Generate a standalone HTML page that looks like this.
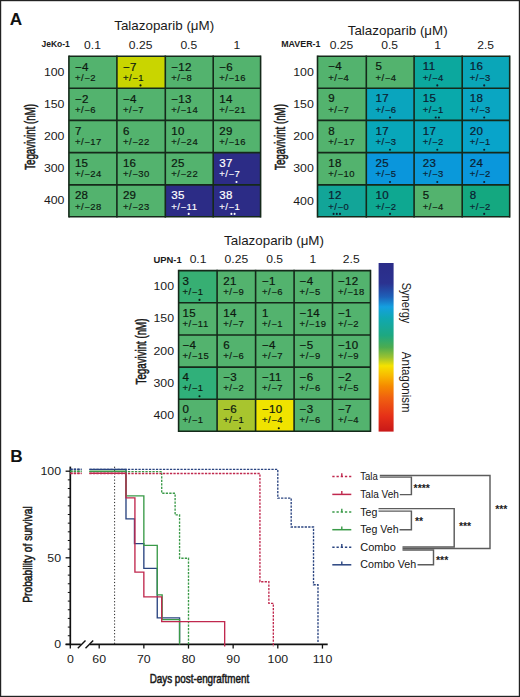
<!DOCTYPE html>
<html><head><meta charset="utf-8"><style>
html,body{margin:0;padding:0;background:#fff;}
body{width:520px;height:697px;overflow:hidden;font-family:"Liberation Sans", sans-serif;}
svg{display:block;}
</style></head><body>
<svg width="520" height="697" viewBox="0 0 520 697" font-family='"Liberation Sans", sans-serif'>
<rect x="0" y="0" width="520" height="697" fill="#fff"/>
<rect x="0.6" y="0.6" width="518.8" height="695.8" fill="none" stroke="#222" stroke-width="1.2"/>
<text transform="translate(9.80,25.00)" font-size="17.2" font-weight="700" fill="#111" text-anchor="start" >A</text>
<text transform="translate(10.30,461.90)" font-size="17.2" font-weight="700" fill="#111" text-anchor="start" >B</text>
<rect x="68.90" y="56.30" width="48.00" height="32.00" fill="#53b36e"/>
<rect x="116.90" y="56.30" width="48.40" height="32.00" fill="#c9d500"/>
<rect x="165.30" y="56.30" width="47.90" height="32.00" fill="#53b36e"/>
<rect x="213.20" y="56.30" width="47.40" height="32.00" fill="#53b36e"/>
<rect x="68.90" y="88.30" width="48.00" height="32.10" fill="#53b36e"/>
<rect x="116.90" y="88.30" width="48.40" height="32.10" fill="#53b36e"/>
<rect x="165.30" y="88.30" width="47.90" height="32.10" fill="#53b36e"/>
<rect x="213.20" y="88.30" width="47.40" height="32.10" fill="#53b36e"/>
<rect x="68.90" y="120.40" width="48.00" height="32.20" fill="#53b36e"/>
<rect x="116.90" y="120.40" width="48.40" height="32.20" fill="#53b36e"/>
<rect x="165.30" y="120.40" width="47.90" height="32.20" fill="#53b36e"/>
<rect x="213.20" y="120.40" width="47.40" height="32.20" fill="#53b36e"/>
<rect x="68.90" y="152.60" width="48.00" height="32.30" fill="#53b36e"/>
<rect x="116.90" y="152.60" width="48.40" height="32.30" fill="#53b36e"/>
<rect x="165.30" y="152.60" width="47.90" height="32.30" fill="#53b36e"/>
<rect x="213.20" y="152.60" width="47.40" height="32.30" fill="#2c2c86"/>
<rect x="68.90" y="184.90" width="48.00" height="31.90" fill="#53b36e"/>
<rect x="116.90" y="184.90" width="48.40" height="31.90" fill="#53b36e"/>
<rect x="165.30" y="184.90" width="47.90" height="31.90" fill="#2c2c86"/>
<rect x="213.20" y="184.90" width="47.40" height="31.90" fill="#2c2c86"/>
<line x1="68.90" y1="55.50" x2="68.90" y2="217.60" stroke="#15291a" stroke-width="1.6"/>
<line x1="116.90" y1="55.50" x2="116.90" y2="217.60" stroke="#15291a" stroke-width="1.6"/>
<line x1="165.30" y1="55.50" x2="165.30" y2="217.60" stroke="#15291a" stroke-width="1.6"/>
<line x1="213.20" y1="55.50" x2="213.20" y2="217.60" stroke="#15291a" stroke-width="1.6"/>
<line x1="260.60" y1="55.50" x2="260.60" y2="217.60" stroke="#15291a" stroke-width="1.6"/>
<line x1="68.90" y1="56.30" x2="260.60" y2="56.30" stroke="#15291a" stroke-width="1.6"/>
<line x1="68.90" y1="88.30" x2="260.60" y2="88.30" stroke="#15291a" stroke-width="1.6"/>
<line x1="68.90" y1="120.40" x2="260.60" y2="120.40" stroke="#15291a" stroke-width="1.6"/>
<line x1="68.90" y1="152.60" x2="260.60" y2="152.60" stroke="#15291a" stroke-width="1.6"/>
<line x1="68.90" y1="184.90" x2="260.60" y2="184.90" stroke="#15291a" stroke-width="1.6"/>
<line x1="68.90" y1="216.80" x2="260.60" y2="216.80" stroke="#15291a" stroke-width="1.6"/>
<text transform="translate(74.90,70.50) scale(1.03,1)" font-size="11.2" font-weight="400" fill="#0d1a10" text-anchor="start" letter-spacing="0.3" stroke="#0d1a10" stroke-width="0.22">−4</text>
<text transform="translate(74.90,81.10) scale(1.1,1)" font-size="8.6" font-weight="400" fill="#0d1a10" text-anchor="start" letter-spacing="0.5" stroke="#0d1a10" stroke-width="0.15">+/−2</text>
<text transform="translate(122.90,70.50) scale(1.03,1)" font-size="11.2" font-weight="400" fill="#0d1a10" text-anchor="start" letter-spacing="0.3" stroke="#0d1a10" stroke-width="0.22">−7</text>
<text transform="translate(122.90,81.10) scale(1.1,1)" font-size="8.6" font-weight="400" fill="#0d1a10" text-anchor="start" letter-spacing="0.5" stroke="#0d1a10" stroke-width="0.15">+/−1</text>
<circle cx="140.50" cy="85.40" r="1.05" fill="#0d1a10"/>
<text transform="translate(171.30,70.50) scale(1.03,1)" font-size="11.2" font-weight="400" fill="#0d1a10" text-anchor="start" letter-spacing="0.3" stroke="#0d1a10" stroke-width="0.22">−12</text>
<text transform="translate(171.30,81.10) scale(1.1,1)" font-size="8.6" font-weight="400" fill="#0d1a10" text-anchor="start" letter-spacing="0.5" stroke="#0d1a10" stroke-width="0.15">+/−8</text>
<text transform="translate(219.20,70.50) scale(1.03,1)" font-size="11.2" font-weight="400" fill="#0d1a10" text-anchor="start" letter-spacing="0.3" stroke="#0d1a10" stroke-width="0.22">−6</text>
<text transform="translate(219.20,81.10) scale(1.1,1)" font-size="8.6" font-weight="400" fill="#0d1a10" text-anchor="start" letter-spacing="0.5" stroke="#0d1a10" stroke-width="0.15">+/−16</text>
<text transform="translate(74.90,102.50) scale(1.03,1)" font-size="11.2" font-weight="400" fill="#0d1a10" text-anchor="start" letter-spacing="0.3" stroke="#0d1a10" stroke-width="0.22">−2</text>
<text transform="translate(74.90,113.10) scale(1.1,1)" font-size="8.6" font-weight="400" fill="#0d1a10" text-anchor="start" letter-spacing="0.5" stroke="#0d1a10" stroke-width="0.15">+/−6</text>
<text transform="translate(122.90,102.50) scale(1.03,1)" font-size="11.2" font-weight="400" fill="#0d1a10" text-anchor="start" letter-spacing="0.3" stroke="#0d1a10" stroke-width="0.22">−4</text>
<text transform="translate(122.90,113.10) scale(1.1,1)" font-size="8.6" font-weight="400" fill="#0d1a10" text-anchor="start" letter-spacing="0.5" stroke="#0d1a10" stroke-width="0.15">+/−7</text>
<text transform="translate(171.30,102.50) scale(1.03,1)" font-size="11.2" font-weight="400" fill="#0d1a10" text-anchor="start" letter-spacing="0.3" stroke="#0d1a10" stroke-width="0.22">−13</text>
<text transform="translate(171.30,113.10) scale(1.1,1)" font-size="8.6" font-weight="400" fill="#0d1a10" text-anchor="start" letter-spacing="0.5" stroke="#0d1a10" stroke-width="0.15">+/−14</text>
<text transform="translate(219.20,102.50) scale(1.03,1)" font-size="11.2" font-weight="400" fill="#0d1a10" text-anchor="start" letter-spacing="0.3" stroke="#0d1a10" stroke-width="0.22">14</text>
<text transform="translate(219.20,113.10) scale(1.1,1)" font-size="8.6" font-weight="400" fill="#0d1a10" text-anchor="start" letter-spacing="0.5" stroke="#0d1a10" stroke-width="0.15">+/−21</text>
<text transform="translate(74.90,134.60) scale(1.03,1)" font-size="11.2" font-weight="400" fill="#0d1a10" text-anchor="start" letter-spacing="0.3" stroke="#0d1a10" stroke-width="0.22">7</text>
<text transform="translate(74.90,145.20) scale(1.1,1)" font-size="8.6" font-weight="400" fill="#0d1a10" text-anchor="start" letter-spacing="0.5" stroke="#0d1a10" stroke-width="0.15">+/−17</text>
<text transform="translate(122.90,134.60) scale(1.03,1)" font-size="11.2" font-weight="400" fill="#0d1a10" text-anchor="start" letter-spacing="0.3" stroke="#0d1a10" stroke-width="0.22">6</text>
<text transform="translate(122.90,145.20) scale(1.1,1)" font-size="8.6" font-weight="400" fill="#0d1a10" text-anchor="start" letter-spacing="0.5" stroke="#0d1a10" stroke-width="0.15">+/−22</text>
<text transform="translate(171.30,134.60) scale(1.03,1)" font-size="11.2" font-weight="400" fill="#0d1a10" text-anchor="start" letter-spacing="0.3" stroke="#0d1a10" stroke-width="0.22">10</text>
<text transform="translate(171.30,145.20) scale(1.1,1)" font-size="8.6" font-weight="400" fill="#0d1a10" text-anchor="start" letter-spacing="0.5" stroke="#0d1a10" stroke-width="0.15">+/−24</text>
<text transform="translate(219.20,134.60) scale(1.03,1)" font-size="11.2" font-weight="400" fill="#0d1a10" text-anchor="start" letter-spacing="0.3" stroke="#0d1a10" stroke-width="0.22">29</text>
<text transform="translate(219.20,145.20) scale(1.1,1)" font-size="8.6" font-weight="400" fill="#0d1a10" text-anchor="start" letter-spacing="0.5" stroke="#0d1a10" stroke-width="0.15">+/−16</text>
<text transform="translate(74.90,166.80) scale(1.03,1)" font-size="11.2" font-weight="400" fill="#0d1a10" text-anchor="start" letter-spacing="0.3" stroke="#0d1a10" stroke-width="0.22">15</text>
<text transform="translate(74.90,177.40) scale(1.1,1)" font-size="8.6" font-weight="400" fill="#0d1a10" text-anchor="start" letter-spacing="0.5" stroke="#0d1a10" stroke-width="0.15">+/−24</text>
<text transform="translate(122.90,166.80) scale(1.03,1)" font-size="11.2" font-weight="400" fill="#0d1a10" text-anchor="start" letter-spacing="0.3" stroke="#0d1a10" stroke-width="0.22">16</text>
<text transform="translate(122.90,177.40) scale(1.1,1)" font-size="8.6" font-weight="400" fill="#0d1a10" text-anchor="start" letter-spacing="0.5" stroke="#0d1a10" stroke-width="0.15">+/−30</text>
<text transform="translate(171.30,166.80) scale(1.03,1)" font-size="11.2" font-weight="400" fill="#0d1a10" text-anchor="start" letter-spacing="0.3" stroke="#0d1a10" stroke-width="0.22">25</text>
<text transform="translate(171.30,177.40) scale(1.1,1)" font-size="8.6" font-weight="400" fill="#0d1a10" text-anchor="start" letter-spacing="0.5" stroke="#0d1a10" stroke-width="0.15">+/−22</text>
<text transform="translate(219.20,166.80) scale(1.03,1)" font-size="11.2" font-weight="400" fill="#ffffff" text-anchor="start" letter-spacing="0.3" stroke="#ffffff" stroke-width="0.22">37</text>
<text transform="translate(219.20,177.40) scale(1.1,1)" font-size="8.6" font-weight="400" fill="#ffffff" text-anchor="start" letter-spacing="0.5" stroke="#ffffff" stroke-width="0.15">+/−7</text>
<circle cx="236.50" cy="182.00" r="1.05" fill="#ffffff"/>
<text transform="translate(74.90,199.10) scale(1.03,1)" font-size="11.2" font-weight="400" fill="#0d1a10" text-anchor="start" letter-spacing="0.3" stroke="#0d1a10" stroke-width="0.22">28</text>
<text transform="translate(74.90,209.70) scale(1.1,1)" font-size="8.6" font-weight="400" fill="#0d1a10" text-anchor="start" letter-spacing="0.5" stroke="#0d1a10" stroke-width="0.15">+/−28</text>
<text transform="translate(122.90,199.10) scale(1.03,1)" font-size="11.2" font-weight="400" fill="#0d1a10" text-anchor="start" letter-spacing="0.3" stroke="#0d1a10" stroke-width="0.22">29</text>
<text transform="translate(122.90,209.70) scale(1.1,1)" font-size="8.6" font-weight="400" fill="#0d1a10" text-anchor="start" letter-spacing="0.5" stroke="#0d1a10" stroke-width="0.15">+/−23</text>
<text transform="translate(171.30,199.10) scale(1.03,1)" font-size="11.2" font-weight="400" fill="#ffffff" text-anchor="start" letter-spacing="0.3" stroke="#ffffff" stroke-width="0.22">35</text>
<text transform="translate(171.30,209.70) scale(1.1,1)" font-size="8.6" font-weight="400" fill="#ffffff" text-anchor="start" letter-spacing="0.5" stroke="#ffffff" stroke-width="0.15">+/−11</text>
<circle cx="188.70" cy="213.90" r="1.05" fill="#ffffff"/>
<text transform="translate(219.20,199.10) scale(1.03,1)" font-size="11.2" font-weight="400" fill="#ffffff" text-anchor="start" letter-spacing="0.3" stroke="#ffffff" stroke-width="0.22">38</text>
<text transform="translate(219.20,209.70) scale(1.1,1)" font-size="8.6" font-weight="400" fill="#ffffff" text-anchor="start" letter-spacing="0.5" stroke="#ffffff" stroke-width="0.15">+/−1</text>
<circle cx="231.40" cy="213.90" r="1.05" fill="#ffffff"/>
<circle cx="234.60" cy="213.90" r="1.05" fill="#ffffff"/>
<text transform="translate(164.20,30.30) scale(0.985,1)" font-size="13.6" font-weight="400" fill="#1a1a1a" text-anchor="middle" >Talazoparib (μM)</text>
<text transform="translate(41.40,47.00) scale(0.97,1)" font-size="8.8" font-weight="700" fill="#1a1a1a" text-anchor="start" >JeKo-1</text>
<text transform="translate(92.48,48.60) scale(1.1,1)" font-size="11" font-weight="400" fill="#1a1a1a" text-anchor="middle" >0.1</text>
<text transform="translate(140.62,48.60) scale(1.1,1)" font-size="11" font-weight="400" fill="#1a1a1a" text-anchor="middle" >0.25</text>
<text transform="translate(188.78,48.60) scale(1.1,1)" font-size="11" font-weight="400" fill="#1a1a1a" text-anchor="middle" >0.5</text>
<text transform="translate(236.93,48.60) scale(1.1,1)" font-size="11" font-weight="400" fill="#1a1a1a" text-anchor="middle" >1</text>
<text transform="translate(64.40,75.80) scale(1.12,1)" font-size="11" font-weight="400" fill="#1a1a1a" text-anchor="end" >100</text>
<text transform="translate(64.40,107.95) scale(1.12,1)" font-size="11" font-weight="400" fill="#1a1a1a" text-anchor="end" >150</text>
<text transform="translate(64.40,140.10) scale(1.12,1)" font-size="11" font-weight="400" fill="#1a1a1a" text-anchor="end" >200</text>
<text transform="translate(64.40,172.25) scale(1.12,1)" font-size="11" font-weight="400" fill="#1a1a1a" text-anchor="end" >300</text>
<text transform="translate(64.40,204.40) scale(1.12,1)" font-size="11" font-weight="400" fill="#1a1a1a" text-anchor="end" >400</text>
<text transform="translate(35.10,136.90) rotate(-90) scale(0.705,1)" font-size="13.8" font-weight="400" fill="#1a1a1a" text-anchor="middle" stroke="#1a1a1a" stroke-width="0.55">Tegavivint (nM)</text>
<rect x="317.50" y="56.30" width="48.80" height="32.00" fill="#53b36e"/>
<rect x="366.30" y="56.30" width="47.80" height="32.00" fill="#53b36e"/>
<rect x="414.10" y="56.30" width="48.10" height="32.00" fill="#0ca89e"/>
<rect x="462.20" y="56.30" width="47.50" height="32.00" fill="#0aa6b8"/>
<rect x="317.50" y="88.30" width="48.80" height="32.10" fill="#53b36e"/>
<rect x="366.30" y="88.30" width="47.80" height="32.10" fill="#0aa5be"/>
<rect x="414.10" y="88.30" width="48.10" height="32.10" fill="#09a9ab"/>
<rect x="462.20" y="88.30" width="47.50" height="32.10" fill="#0aa6c2"/>
<rect x="317.50" y="120.40" width="48.80" height="32.20" fill="#53b36e"/>
<rect x="366.30" y="120.40" width="47.80" height="32.20" fill="#08a7ba"/>
<rect x="414.10" y="120.40" width="48.10" height="32.20" fill="#08a7ba"/>
<rect x="462.20" y="120.40" width="47.50" height="32.20" fill="#08a4ca"/>
<rect x="317.50" y="152.60" width="48.80" height="32.30" fill="#53b36e"/>
<rect x="366.30" y="152.60" width="47.80" height="32.30" fill="#0a96dc"/>
<rect x="414.10" y="152.60" width="48.10" height="32.30" fill="#0a99da"/>
<rect x="462.20" y="152.60" width="47.50" height="32.30" fill="#0a97dc"/>
<rect x="317.50" y="184.90" width="48.80" height="31.90" fill="#12a598"/>
<rect x="366.30" y="184.90" width="47.80" height="31.90" fill="#0ea891"/>
<rect x="414.10" y="184.90" width="48.10" height="31.90" fill="#53b36e"/>
<rect x="462.20" y="184.90" width="47.50" height="31.90" fill="#14a880"/>
<line x1="317.50" y1="55.50" x2="317.50" y2="217.60" stroke="#15291a" stroke-width="1.6"/>
<line x1="366.30" y1="55.50" x2="366.30" y2="217.60" stroke="#15291a" stroke-width="1.6"/>
<line x1="414.10" y1="55.50" x2="414.10" y2="217.60" stroke="#15291a" stroke-width="1.6"/>
<line x1="462.20" y1="55.50" x2="462.20" y2="217.60" stroke="#15291a" stroke-width="1.6"/>
<line x1="509.70" y1="55.50" x2="509.70" y2="217.60" stroke="#15291a" stroke-width="1.6"/>
<line x1="317.50" y1="56.30" x2="509.70" y2="56.30" stroke="#15291a" stroke-width="1.6"/>
<line x1="317.50" y1="88.30" x2="509.70" y2="88.30" stroke="#15291a" stroke-width="1.6"/>
<line x1="317.50" y1="120.40" x2="509.70" y2="120.40" stroke="#15291a" stroke-width="1.6"/>
<line x1="317.50" y1="152.60" x2="509.70" y2="152.60" stroke="#15291a" stroke-width="1.6"/>
<line x1="317.50" y1="184.90" x2="509.70" y2="184.90" stroke="#15291a" stroke-width="1.6"/>
<line x1="317.50" y1="216.80" x2="509.70" y2="216.80" stroke="#15291a" stroke-width="1.6"/>
<text transform="translate(328.20,70.40) scale(1.03,1)" font-size="11.2" font-weight="400" fill="#0d1a10" text-anchor="start" letter-spacing="0.3" stroke="#0d1a10" stroke-width="0.22">−4</text>
<text transform="translate(328.20,80.90) scale(1.1,1)" font-size="8.6" font-weight="400" fill="#0d1a10" text-anchor="start" letter-spacing="0.5" stroke="#0d1a10" stroke-width="0.15">+/−4</text>
<text transform="translate(375.50,70.40) scale(1.03,1)" font-size="11.2" font-weight="400" fill="#0d1a10" text-anchor="start" letter-spacing="0.3" stroke="#0d1a10" stroke-width="0.22">5</text>
<text transform="translate(375.50,80.90) scale(1.1,1)" font-size="8.6" font-weight="400" fill="#0d1a10" text-anchor="start" letter-spacing="0.5" stroke="#0d1a10" stroke-width="0.15">+/−4</text>
<text transform="translate(422.80,70.40) scale(1.03,1)" font-size="11.2" font-weight="400" fill="#0c2030" text-anchor="start" letter-spacing="0.3" stroke="#0c2030" stroke-width="0.22">11</text>
<text transform="translate(422.80,80.90) scale(1.1,1)" font-size="8.6" font-weight="400" fill="#0c2030" text-anchor="start" letter-spacing="0.5" stroke="#0c2030" stroke-width="0.15">+/−4</text>
<circle cx="437.30" cy="85.40" r="1.05" fill="#0c2030"/>
<text transform="translate(469.70,70.40) scale(1.03,1)" font-size="11.2" font-weight="400" fill="#0c2030" text-anchor="start" letter-spacing="0.3" stroke="#0c2030" stroke-width="0.22">16</text>
<text transform="translate(469.70,80.90) scale(1.1,1)" font-size="8.6" font-weight="400" fill="#0c2030" text-anchor="start" letter-spacing="0.5" stroke="#0c2030" stroke-width="0.15">+/−3</text>
<circle cx="484.20" cy="85.40" r="1.05" fill="#0c2030"/>
<text transform="translate(328.20,102.40) scale(1.03,1)" font-size="11.2" font-weight="400" fill="#0d1a10" text-anchor="start" letter-spacing="0.3" stroke="#0d1a10" stroke-width="0.22">9</text>
<text transform="translate(328.20,112.90) scale(1.1,1)" font-size="8.6" font-weight="400" fill="#0d1a10" text-anchor="start" letter-spacing="0.5" stroke="#0d1a10" stroke-width="0.15">+/−7</text>
<text transform="translate(375.50,102.40) scale(1.03,1)" font-size="11.2" font-weight="400" fill="#0c2030" text-anchor="start" letter-spacing="0.3" stroke="#0c2030" stroke-width="0.22">17</text>
<text transform="translate(375.50,112.90) scale(1.1,1)" font-size="8.6" font-weight="400" fill="#0c2030" text-anchor="start" letter-spacing="0.5" stroke="#0c2030" stroke-width="0.15">+/−6</text>
<circle cx="390.00" cy="117.50" r="1.05" fill="#0c2030"/>
<text transform="translate(422.80,102.40) scale(1.03,1)" font-size="11.2" font-weight="400" fill="#0c2030" text-anchor="start" letter-spacing="0.3" stroke="#0c2030" stroke-width="0.22">15</text>
<text transform="translate(422.80,112.90) scale(1.1,1)" font-size="8.6" font-weight="400" fill="#0c2030" text-anchor="start" letter-spacing="0.5" stroke="#0c2030" stroke-width="0.15">+/−1</text>
<circle cx="435.70" cy="117.50" r="1.05" fill="#0c2030"/>
<circle cx="438.90" cy="117.50" r="1.05" fill="#0c2030"/>
<text transform="translate(469.70,102.40) scale(1.03,1)" font-size="11.2" font-weight="400" fill="#0c2030" text-anchor="start" letter-spacing="0.3" stroke="#0c2030" stroke-width="0.22">18</text>
<text transform="translate(469.70,112.90) scale(1.1,1)" font-size="8.6" font-weight="400" fill="#0c2030" text-anchor="start" letter-spacing="0.5" stroke="#0c2030" stroke-width="0.15">+/−3</text>
<circle cx="484.20" cy="117.50" r="1.05" fill="#0c2030"/>
<text transform="translate(328.20,134.50) scale(1.03,1)" font-size="11.2" font-weight="400" fill="#0d1a10" text-anchor="start" letter-spacing="0.3" stroke="#0d1a10" stroke-width="0.22">8</text>
<text transform="translate(328.20,145.00) scale(1.1,1)" font-size="8.6" font-weight="400" fill="#0d1a10" text-anchor="start" letter-spacing="0.5" stroke="#0d1a10" stroke-width="0.15">+/−17</text>
<text transform="translate(375.50,134.50) scale(1.03,1)" font-size="11.2" font-weight="400" fill="#0c2030" text-anchor="start" letter-spacing="0.3" stroke="#0c2030" stroke-width="0.22">17</text>
<text transform="translate(375.50,145.00) scale(1.1,1)" font-size="8.6" font-weight="400" fill="#0c2030" text-anchor="start" letter-spacing="0.5" stroke="#0c2030" stroke-width="0.15">+/−3</text>
<circle cx="390.00" cy="149.70" r="1.05" fill="#0c2030"/>
<text transform="translate(422.80,134.50) scale(1.03,1)" font-size="11.2" font-weight="400" fill="#0c2030" text-anchor="start" letter-spacing="0.3" stroke="#0c2030" stroke-width="0.22">17</text>
<text transform="translate(422.80,145.00) scale(1.1,1)" font-size="8.6" font-weight="400" fill="#0c2030" text-anchor="start" letter-spacing="0.5" stroke="#0c2030" stroke-width="0.15">+/−2</text>
<circle cx="437.30" cy="149.70" r="1.05" fill="#0c2030"/>
<text transform="translate(469.70,134.50) scale(1.03,1)" font-size="11.2" font-weight="400" fill="#0c2030" text-anchor="start" letter-spacing="0.3" stroke="#0c2030" stroke-width="0.22">20</text>
<text transform="translate(469.70,145.00) scale(1.1,1)" font-size="8.6" font-weight="400" fill="#0c2030" text-anchor="start" letter-spacing="0.5" stroke="#0c2030" stroke-width="0.15">+/−1</text>
<circle cx="484.20" cy="149.70" r="1.05" fill="#0c2030"/>
<text transform="translate(328.20,166.70) scale(1.03,1)" font-size="11.2" font-weight="400" fill="#0d1a10" text-anchor="start" letter-spacing="0.3" stroke="#0d1a10" stroke-width="0.22">18</text>
<text transform="translate(328.20,177.20) scale(1.1,1)" font-size="8.6" font-weight="400" fill="#0d1a10" text-anchor="start" letter-spacing="0.5" stroke="#0d1a10" stroke-width="0.15">+/−10</text>
<text transform="translate(375.50,166.70) scale(1.03,1)" font-size="11.2" font-weight="400" fill="#0c2030" text-anchor="start" letter-spacing="0.3" stroke="#0c2030" stroke-width="0.22">25</text>
<text transform="translate(375.50,177.20) scale(1.1,1)" font-size="8.6" font-weight="400" fill="#0c2030" text-anchor="start" letter-spacing="0.5" stroke="#0c2030" stroke-width="0.15">+/−5</text>
<circle cx="390.00" cy="182.00" r="1.05" fill="#0c2030"/>
<text transform="translate(422.80,166.70) scale(1.03,1)" font-size="11.2" font-weight="400" fill="#0c2030" text-anchor="start" letter-spacing="0.3" stroke="#0c2030" stroke-width="0.22">23</text>
<text transform="translate(422.80,177.20) scale(1.1,1)" font-size="8.6" font-weight="400" fill="#0c2030" text-anchor="start" letter-spacing="0.5" stroke="#0c2030" stroke-width="0.15">+/−3</text>
<circle cx="437.30" cy="182.00" r="1.05" fill="#0c2030"/>
<text transform="translate(469.70,166.70) scale(1.03,1)" font-size="11.2" font-weight="400" fill="#0c2030" text-anchor="start" letter-spacing="0.3" stroke="#0c2030" stroke-width="0.22">24</text>
<text transform="translate(469.70,177.20) scale(1.1,1)" font-size="8.6" font-weight="400" fill="#0c2030" text-anchor="start" letter-spacing="0.5" stroke="#0c2030" stroke-width="0.15">+/−2</text>
<circle cx="484.20" cy="182.00" r="1.05" fill="#0c2030"/>
<text transform="translate(328.20,199.00) scale(1.03,1)" font-size="11.2" font-weight="400" fill="#0c2030" text-anchor="start" letter-spacing="0.3" stroke="#0c2030" stroke-width="0.22">12</text>
<text transform="translate(328.20,209.50) scale(1.1,1)" font-size="8.6" font-weight="400" fill="#0c2030" text-anchor="start" letter-spacing="0.5" stroke="#0c2030" stroke-width="0.15">+/−0</text>
<circle cx="333.60" cy="213.90" r="1.05" fill="#0c2030"/>
<circle cx="336.80" cy="213.90" r="1.05" fill="#0c2030"/>
<circle cx="340.00" cy="213.90" r="1.05" fill="#0c2030"/>
<text transform="translate(375.50,199.00) scale(1.03,1)" font-size="11.2" font-weight="400" fill="#0c2030" text-anchor="start" letter-spacing="0.3" stroke="#0c2030" stroke-width="0.22">10</text>
<text transform="translate(375.50,209.50) scale(1.1,1)" font-size="8.6" font-weight="400" fill="#0c2030" text-anchor="start" letter-spacing="0.5" stroke="#0c2030" stroke-width="0.15">+/−2</text>
<circle cx="390.00" cy="213.90" r="1.05" fill="#0c2030"/>
<text transform="translate(422.80,199.00) scale(1.03,1)" font-size="11.2" font-weight="400" fill="#0d1a10" text-anchor="start" letter-spacing="0.3" stroke="#0d1a10" stroke-width="0.22">5</text>
<text transform="translate(422.80,209.50) scale(1.1,1)" font-size="8.6" font-weight="400" fill="#0d1a10" text-anchor="start" letter-spacing="0.5" stroke="#0d1a10" stroke-width="0.15">+/−4</text>
<text transform="translate(469.70,199.00) scale(1.03,1)" font-size="11.2" font-weight="400" fill="#0c2030" text-anchor="start" letter-spacing="0.3" stroke="#0c2030" stroke-width="0.22">8</text>
<text transform="translate(469.70,209.50) scale(1.1,1)" font-size="8.6" font-weight="400" fill="#0c2030" text-anchor="start" letter-spacing="0.5" stroke="#0c2030" stroke-width="0.15">+/−2</text>
<circle cx="484.20" cy="213.90" r="1.05" fill="#0c2030"/>
<text transform="translate(397.70,35.20) scale(0.985,1)" font-size="13.6" font-weight="400" fill="#1a1a1a" text-anchor="middle" >Talazoparib (μM)</text>
<text transform="translate(281.20,47.20) scale(1.01,1)" font-size="8.8" font-weight="700" fill="#1a1a1a" text-anchor="start" >MAVER-1</text>
<text transform="translate(341.52,48.60) scale(1.1,1)" font-size="11" font-weight="400" fill="#1a1a1a" text-anchor="middle" >0.25</text>
<text transform="translate(389.57,48.60) scale(1.1,1)" font-size="11" font-weight="400" fill="#1a1a1a" text-anchor="middle" >0.5</text>
<text transform="translate(437.62,48.60) scale(1.1,1)" font-size="11" font-weight="400" fill="#1a1a1a" text-anchor="middle" >1</text>
<text transform="translate(485.67,48.60) scale(1.1,1)" font-size="11" font-weight="400" fill="#1a1a1a" text-anchor="middle" >2.5</text>
<text transform="translate(313.80,76.00) scale(1.12,1)" font-size="11" font-weight="400" fill="#1a1a1a" text-anchor="end" >100</text>
<text transform="translate(313.80,108.15) scale(1.12,1)" font-size="11" font-weight="400" fill="#1a1a1a" text-anchor="end" >150</text>
<text transform="translate(313.80,140.30) scale(1.12,1)" font-size="11" font-weight="400" fill="#1a1a1a" text-anchor="end" >200</text>
<text transform="translate(313.80,172.45) scale(1.12,1)" font-size="11" font-weight="400" fill="#1a1a1a" text-anchor="end" >300</text>
<text transform="translate(313.80,204.60) scale(1.12,1)" font-size="11" font-weight="400" fill="#1a1a1a" text-anchor="end" >400</text>
<text transform="translate(285.20,137.00) rotate(-90) scale(0.705,1)" font-size="13.8" font-weight="400" fill="#1a1a1a" text-anchor="middle" stroke="#1a1a1a" stroke-width="0.55">Tegavivint (nM)</text>
<rect x="178.60" y="270.60" width="38.50" height="32.20" fill="#37af73"/>
<rect x="217.10" y="270.60" width="38.50" height="32.20" fill="#53b36e"/>
<rect x="255.60" y="270.60" width="38.50" height="32.20" fill="#53b36e"/>
<rect x="294.10" y="270.60" width="38.40" height="32.20" fill="#53b36e"/>
<rect x="332.50" y="270.60" width="38.00" height="32.20" fill="#53b36e"/>
<rect x="178.60" y="302.80" width="38.50" height="32.20" fill="#53b36e"/>
<rect x="217.10" y="302.80" width="38.50" height="32.20" fill="#53b36e"/>
<rect x="255.60" y="302.80" width="38.50" height="32.20" fill="#53b36e"/>
<rect x="294.10" y="302.80" width="38.40" height="32.20" fill="#53b36e"/>
<rect x="332.50" y="302.80" width="38.00" height="32.20" fill="#53b36e"/>
<rect x="178.60" y="335.00" width="38.50" height="32.10" fill="#53b36e"/>
<rect x="217.10" y="335.00" width="38.50" height="32.10" fill="#53b36e"/>
<rect x="255.60" y="335.00" width="38.50" height="32.10" fill="#53b36e"/>
<rect x="294.10" y="335.00" width="38.40" height="32.10" fill="#53b36e"/>
<rect x="332.50" y="335.00" width="38.00" height="32.10" fill="#53b36e"/>
<rect x="178.60" y="367.10" width="38.50" height="32.10" fill="#30b07a"/>
<rect x="217.10" y="367.10" width="38.50" height="32.10" fill="#53b36e"/>
<rect x="255.60" y="367.10" width="38.50" height="32.10" fill="#53b36e"/>
<rect x="294.10" y="367.10" width="38.40" height="32.10" fill="#53b36e"/>
<rect x="332.50" y="367.10" width="38.00" height="32.10" fill="#53b36e"/>
<rect x="178.60" y="399.20" width="38.50" height="32.00" fill="#53b36e"/>
<rect x="217.10" y="399.20" width="38.50" height="32.00" fill="#a8c52e"/>
<rect x="255.60" y="399.20" width="38.50" height="32.00" fill="#f0e300"/>
<rect x="294.10" y="399.20" width="38.40" height="32.00" fill="#53b36e"/>
<rect x="332.50" y="399.20" width="38.00" height="32.00" fill="#53b36e"/>
<line x1="178.60" y1="269.80" x2="178.60" y2="432.00" stroke="#15291a" stroke-width="1.6"/>
<line x1="217.10" y1="269.80" x2="217.10" y2="432.00" stroke="#15291a" stroke-width="1.6"/>
<line x1="255.60" y1="269.80" x2="255.60" y2="432.00" stroke="#15291a" stroke-width="1.6"/>
<line x1="294.10" y1="269.80" x2="294.10" y2="432.00" stroke="#15291a" stroke-width="1.6"/>
<line x1="332.50" y1="269.80" x2="332.50" y2="432.00" stroke="#15291a" stroke-width="1.6"/>
<line x1="370.50" y1="269.80" x2="370.50" y2="432.00" stroke="#15291a" stroke-width="1.6"/>
<line x1="178.60" y1="270.60" x2="370.50" y2="270.60" stroke="#15291a" stroke-width="1.6"/>
<line x1="178.60" y1="302.80" x2="370.50" y2="302.80" stroke="#15291a" stroke-width="1.6"/>
<line x1="178.60" y1="335.00" x2="370.50" y2="335.00" stroke="#15291a" stroke-width="1.6"/>
<line x1="178.60" y1="367.10" x2="370.50" y2="367.10" stroke="#15291a" stroke-width="1.6"/>
<line x1="178.60" y1="399.20" x2="370.50" y2="399.20" stroke="#15291a" stroke-width="1.6"/>
<line x1="178.60" y1="431.20" x2="370.50" y2="431.20" stroke="#15291a" stroke-width="1.6"/>
<text transform="translate(182.50,284.70) scale(1.03,1)" font-size="11.2" font-weight="400" fill="#0d1a10" text-anchor="start" letter-spacing="0.3" stroke="#0d1a10" stroke-width="0.22">3</text>
<text transform="translate(182.50,294.70) scale(1.1,1)" font-size="8.6" font-weight="400" fill="#0d1a10" text-anchor="start" letter-spacing="0.5" stroke="#0d1a10" stroke-width="0.15">+/−1</text>
<circle cx="199.50" cy="299.90" r="1.05" fill="#0d1a10"/>
<text transform="translate(223.20,284.70) scale(1.03,1)" font-size="11.2" font-weight="400" fill="#0d1a10" text-anchor="start" letter-spacing="0.3" stroke="#0d1a10" stroke-width="0.22">21</text>
<text transform="translate(223.20,294.70) scale(1.1,1)" font-size="8.6" font-weight="400" fill="#0d1a10" text-anchor="start" letter-spacing="0.5" stroke="#0d1a10" stroke-width="0.15">+/−9</text>
<text transform="translate(262.00,284.70) scale(1.03,1)" font-size="11.2" font-weight="400" fill="#0d1a10" text-anchor="start" letter-spacing="0.3" stroke="#0d1a10" stroke-width="0.22">−1</text>
<text transform="translate(262.00,294.70) scale(1.1,1)" font-size="8.6" font-weight="400" fill="#0d1a10" text-anchor="start" letter-spacing="0.5" stroke="#0d1a10" stroke-width="0.15">+/−6</text>
<text transform="translate(299.60,284.70) scale(1.03,1)" font-size="11.2" font-weight="400" fill="#0d1a10" text-anchor="start" letter-spacing="0.3" stroke="#0d1a10" stroke-width="0.22">−4</text>
<text transform="translate(299.60,294.70) scale(1.1,1)" font-size="8.6" font-weight="400" fill="#0d1a10" text-anchor="start" letter-spacing="0.5" stroke="#0d1a10" stroke-width="0.15">+/−5</text>
<text transform="translate(338.00,284.70) scale(1.03,1)" font-size="11.2" font-weight="400" fill="#0d1a10" text-anchor="start" letter-spacing="0.3" stroke="#0d1a10" stroke-width="0.22">−12</text>
<text transform="translate(338.00,294.70) scale(1.1,1)" font-size="8.6" font-weight="400" fill="#0d1a10" text-anchor="start" letter-spacing="0.5" stroke="#0d1a10" stroke-width="0.15">+/−18</text>
<text transform="translate(182.50,316.90) scale(1.03,1)" font-size="11.2" font-weight="400" fill="#0d1a10" text-anchor="start" letter-spacing="0.3" stroke="#0d1a10" stroke-width="0.22">15</text>
<text transform="translate(182.50,326.90) scale(1.1,1)" font-size="8.6" font-weight="400" fill="#0d1a10" text-anchor="start" letter-spacing="0.5" stroke="#0d1a10" stroke-width="0.15">+/−11</text>
<text transform="translate(223.20,316.90) scale(1.03,1)" font-size="11.2" font-weight="400" fill="#0d1a10" text-anchor="start" letter-spacing="0.3" stroke="#0d1a10" stroke-width="0.22">14</text>
<text transform="translate(223.20,326.90) scale(1.1,1)" font-size="8.6" font-weight="400" fill="#0d1a10" text-anchor="start" letter-spacing="0.5" stroke="#0d1a10" stroke-width="0.15">+/−7</text>
<text transform="translate(262.00,316.90) scale(1.03,1)" font-size="11.2" font-weight="400" fill="#0d1a10" text-anchor="start" letter-spacing="0.3" stroke="#0d1a10" stroke-width="0.22">1</text>
<text transform="translate(262.00,326.90) scale(1.1,1)" font-size="8.6" font-weight="400" fill="#0d1a10" text-anchor="start" letter-spacing="0.5" stroke="#0d1a10" stroke-width="0.15">+/−1</text>
<text transform="translate(299.60,316.90) scale(1.03,1)" font-size="11.2" font-weight="400" fill="#0d1a10" text-anchor="start" letter-spacing="0.3" stroke="#0d1a10" stroke-width="0.22">−14</text>
<text transform="translate(299.60,326.90) scale(1.1,1)" font-size="8.6" font-weight="400" fill="#0d1a10" text-anchor="start" letter-spacing="0.5" stroke="#0d1a10" stroke-width="0.15">+/−19</text>
<text transform="translate(338.00,316.90) scale(1.03,1)" font-size="11.2" font-weight="400" fill="#0d1a10" text-anchor="start" letter-spacing="0.3" stroke="#0d1a10" stroke-width="0.22">−1</text>
<text transform="translate(338.00,326.90) scale(1.1,1)" font-size="8.6" font-weight="400" fill="#0d1a10" text-anchor="start" letter-spacing="0.5" stroke="#0d1a10" stroke-width="0.15">+/−2</text>
<text transform="translate(182.50,349.10) scale(1.03,1)" font-size="11.2" font-weight="400" fill="#0d1a10" text-anchor="start" letter-spacing="0.3" stroke="#0d1a10" stroke-width="0.22">−4</text>
<text transform="translate(182.50,359.10) scale(1.1,1)" font-size="8.6" font-weight="400" fill="#0d1a10" text-anchor="start" letter-spacing="0.5" stroke="#0d1a10" stroke-width="0.15">+/−15</text>
<text transform="translate(223.20,349.10) scale(1.03,1)" font-size="11.2" font-weight="400" fill="#0d1a10" text-anchor="start" letter-spacing="0.3" stroke="#0d1a10" stroke-width="0.22">6</text>
<text transform="translate(223.20,359.10) scale(1.1,1)" font-size="8.6" font-weight="400" fill="#0d1a10" text-anchor="start" letter-spacing="0.5" stroke="#0d1a10" stroke-width="0.15">+/−6</text>
<text transform="translate(262.00,349.10) scale(1.03,1)" font-size="11.2" font-weight="400" fill="#0d1a10" text-anchor="start" letter-spacing="0.3" stroke="#0d1a10" stroke-width="0.22">−4</text>
<text transform="translate(262.00,359.10) scale(1.1,1)" font-size="8.6" font-weight="400" fill="#0d1a10" text-anchor="start" letter-spacing="0.5" stroke="#0d1a10" stroke-width="0.15">+/−7</text>
<text transform="translate(299.60,349.10) scale(1.03,1)" font-size="11.2" font-weight="400" fill="#0d1a10" text-anchor="start" letter-spacing="0.3" stroke="#0d1a10" stroke-width="0.22">−5</text>
<text transform="translate(299.60,359.10) scale(1.1,1)" font-size="8.6" font-weight="400" fill="#0d1a10" text-anchor="start" letter-spacing="0.5" stroke="#0d1a10" stroke-width="0.15">+/−9</text>
<text transform="translate(338.00,349.10) scale(1.03,1)" font-size="11.2" font-weight="400" fill="#0d1a10" text-anchor="start" letter-spacing="0.3" stroke="#0d1a10" stroke-width="0.22">−10</text>
<text transform="translate(338.00,359.10) scale(1.1,1)" font-size="8.6" font-weight="400" fill="#0d1a10" text-anchor="start" letter-spacing="0.5" stroke="#0d1a10" stroke-width="0.15">+/−9</text>
<text transform="translate(182.50,381.20) scale(1.03,1)" font-size="11.2" font-weight="400" fill="#0d1a10" text-anchor="start" letter-spacing="0.3" stroke="#0d1a10" stroke-width="0.22">4</text>
<text transform="translate(182.50,391.20) scale(1.1,1)" font-size="8.6" font-weight="400" fill="#0d1a10" text-anchor="start" letter-spacing="0.5" stroke="#0d1a10" stroke-width="0.15">+/−1</text>
<circle cx="199.50" cy="396.30" r="1.05" fill="#0d1a10"/>
<text transform="translate(223.20,381.20) scale(1.03,1)" font-size="11.2" font-weight="400" fill="#0d1a10" text-anchor="start" letter-spacing="0.3" stroke="#0d1a10" stroke-width="0.22">−3</text>
<text transform="translate(223.20,391.20) scale(1.1,1)" font-size="8.6" font-weight="400" fill="#0d1a10" text-anchor="start" letter-spacing="0.5" stroke="#0d1a10" stroke-width="0.15">+/−2</text>
<text transform="translate(262.00,381.20) scale(1.03,1)" font-size="11.2" font-weight="400" fill="#0d1a10" text-anchor="start" letter-spacing="0.3" stroke="#0d1a10" stroke-width="0.22">−11</text>
<text transform="translate(262.00,391.20) scale(1.1,1)" font-size="8.6" font-weight="400" fill="#0d1a10" text-anchor="start" letter-spacing="0.5" stroke="#0d1a10" stroke-width="0.15">+/−7</text>
<text transform="translate(299.60,381.20) scale(1.03,1)" font-size="11.2" font-weight="400" fill="#0d1a10" text-anchor="start" letter-spacing="0.3" stroke="#0d1a10" stroke-width="0.22">−6</text>
<text transform="translate(299.60,391.20) scale(1.1,1)" font-size="8.6" font-weight="400" fill="#0d1a10" text-anchor="start" letter-spacing="0.5" stroke="#0d1a10" stroke-width="0.15">+/−6</text>
<text transform="translate(338.00,381.20) scale(1.03,1)" font-size="11.2" font-weight="400" fill="#0d1a10" text-anchor="start" letter-spacing="0.3" stroke="#0d1a10" stroke-width="0.22">−2</text>
<text transform="translate(338.00,391.20) scale(1.1,1)" font-size="8.6" font-weight="400" fill="#0d1a10" text-anchor="start" letter-spacing="0.5" stroke="#0d1a10" stroke-width="0.15">+/−5</text>
<text transform="translate(182.50,413.30) scale(1.03,1)" font-size="11.2" font-weight="400" fill="#0d1a10" text-anchor="start" letter-spacing="0.3" stroke="#0d1a10" stroke-width="0.22">0</text>
<text transform="translate(182.50,423.30) scale(1.1,1)" font-size="8.6" font-weight="400" fill="#0d1a10" text-anchor="start" letter-spacing="0.5" stroke="#0d1a10" stroke-width="0.15">+/−1</text>
<text transform="translate(223.20,413.30) scale(1.03,1)" font-size="11.2" font-weight="400" fill="#0d1a10" text-anchor="start" letter-spacing="0.3" stroke="#0d1a10" stroke-width="0.22">−6</text>
<text transform="translate(223.20,423.30) scale(1.1,1)" font-size="8.6" font-weight="400" fill="#0d1a10" text-anchor="start" letter-spacing="0.5" stroke="#0d1a10" stroke-width="0.15">+/−1</text>
<circle cx="240.00" cy="428.30" r="1.05" fill="#0d1a10"/>
<text transform="translate(262.00,413.30) scale(1.03,1)" font-size="11.2" font-weight="400" fill="#0d1a10" text-anchor="start" letter-spacing="0.3" stroke="#0d1a10" stroke-width="0.22">−10</text>
<text transform="translate(262.00,423.30) scale(1.1,1)" font-size="8.6" font-weight="400" fill="#0d1a10" text-anchor="start" letter-spacing="0.5" stroke="#0d1a10" stroke-width="0.15">+/−4</text>
<circle cx="278.80" cy="428.30" r="1.05" fill="#0d1a10"/>
<text transform="translate(299.60,413.30) scale(1.03,1)" font-size="11.2" font-weight="400" fill="#0d1a10" text-anchor="start" letter-spacing="0.3" stroke="#0d1a10" stroke-width="0.22">−3</text>
<text transform="translate(299.60,423.30) scale(1.1,1)" font-size="8.6" font-weight="400" fill="#0d1a10" text-anchor="start" letter-spacing="0.5" stroke="#0d1a10" stroke-width="0.15">+/−6</text>
<text transform="translate(338.00,413.30) scale(1.03,1)" font-size="11.2" font-weight="400" fill="#0d1a10" text-anchor="start" letter-spacing="0.3" stroke="#0d1a10" stroke-width="0.22">−7</text>
<text transform="translate(338.00,423.30) scale(1.1,1)" font-size="8.6" font-weight="400" fill="#0d1a10" text-anchor="start" letter-spacing="0.5" stroke="#0d1a10" stroke-width="0.15">+/−4</text>
<text transform="translate(274.00,244.60) scale(0.985,1)" font-size="13.6" font-weight="400" fill="#1a1a1a" text-anchor="middle" >Talazoparib (μM)</text>
<text transform="translate(153.50,263.00) scale(1.07,1)" font-size="8.8" font-weight="700" fill="#1a1a1a" text-anchor="start" >UPN-1</text>
<text transform="translate(198.05,262.70) scale(1.1,1)" font-size="11" font-weight="400" fill="#1a1a1a" text-anchor="middle" >0.1</text>
<text transform="translate(236.35,262.70) scale(1.1,1)" font-size="11" font-weight="400" fill="#1a1a1a" text-anchor="middle" >0.25</text>
<text transform="translate(274.65,262.70) scale(1.1,1)" font-size="11" font-weight="400" fill="#1a1a1a" text-anchor="middle" >0.5</text>
<text transform="translate(312.95,262.70) scale(1.1,1)" font-size="11" font-weight="400" fill="#1a1a1a" text-anchor="middle" >1</text>
<text transform="translate(351.25,262.70) scale(1.1,1)" font-size="11" font-weight="400" fill="#1a1a1a" text-anchor="middle" >2.5</text>
<text transform="translate(174.00,290.10) scale(1.12,1)" font-size="11" font-weight="400" fill="#1a1a1a" text-anchor="end" >100</text>
<text transform="translate(174.00,322.30) scale(1.12,1)" font-size="11" font-weight="400" fill="#1a1a1a" text-anchor="end" >150</text>
<text transform="translate(174.00,354.50) scale(1.12,1)" font-size="11" font-weight="400" fill="#1a1a1a" text-anchor="end" >200</text>
<text transform="translate(174.00,386.70) scale(1.12,1)" font-size="11" font-weight="400" fill="#1a1a1a" text-anchor="end" >300</text>
<text transform="translate(174.00,418.90) scale(1.12,1)" font-size="11" font-weight="400" fill="#1a1a1a" text-anchor="end" >400</text>
<text transform="translate(145.90,351.50) rotate(-90) scale(0.705,1)" font-size="13.8" font-weight="400" fill="#1a1a1a" text-anchor="middle" stroke="#1a1a1a" stroke-width="0.55">Tegavivint (nM)</text>
<defs><linearGradient id="cb" x1="0" y1="0" x2="0" y2="1">
<stop offset="0" stop-color="#2b2c88"/>
<stop offset="0.12" stop-color="#2b3290"/>
<stop offset="0.20" stop-color="#1e60b8"/>
<stop offset="0.26" stop-color="#14a0e0"/>
<stop offset="0.33" stop-color="#10a8b0"/>
<stop offset="0.43" stop-color="#1ea880"/>
<stop offset="0.50" stop-color="#4cac50"/>
<stop offset="0.56" stop-color="#9cc230"/>
<stop offset="0.61" stop-color="#f5e200"/>
<stop offset="0.67" stop-color="#f8b800"/>
<stop offset="0.73" stop-color="#f58a00"/>
<stop offset="0.80" stop-color="#f06010"/>
<stop offset="0.91" stop-color="#e53018"/>
<stop offset="1" stop-color="#c81818"/>
</linearGradient></defs>
<rect x="378.6" y="263.0" width="15" height="168.6" fill="url(#cb)"/>
<text transform="translate(401.90,303.00) rotate(90) scale(0.925,1)" font-size="12" font-weight="400" fill="#1a1a1a" text-anchor="middle" >Synergy</text>
<text transform="translate(402.10,382.20) rotate(90) scale(0.96,1)" font-size="12" font-weight="400" fill="#1a1a1a" text-anchor="middle" >Antagonism</text>
<line x1="70.3" y1="466.6" x2="70.3" y2="645.2" stroke="#111" stroke-width="1.7"/>
<line x1="65.6" y1="471.20" x2="70.3" y2="471.20" stroke="#111" stroke-width="1.3"/>
<text transform="translate(61.00,475.20) scale(1.12,1)" font-size="11" font-weight="400" fill="#1a1a1a" text-anchor="end" >100</text>
<line x1="65.6" y1="557.80" x2="70.3" y2="557.80" stroke="#111" stroke-width="1.3"/>
<text transform="translate(61.00,561.80) scale(1.12,1)" font-size="11" font-weight="400" fill="#1a1a1a" text-anchor="end" >50</text>
<line x1="65.6" y1="644.40" x2="70.3" y2="644.40" stroke="#111" stroke-width="1.3"/>
<text transform="translate(61.00,648.40) scale(1.12,1)" font-size="11" font-weight="400" fill="#1a1a1a" text-anchor="end" >0</text>
<line x1="67.8" y1="635.74" x2="70.3" y2="635.74" stroke="#111" stroke-width="1"/>
<line x1="67.8" y1="627.08" x2="70.3" y2="627.08" stroke="#111" stroke-width="1"/>
<line x1="67.8" y1="618.42" x2="70.3" y2="618.42" stroke="#111" stroke-width="1"/>
<line x1="67.8" y1="609.76" x2="70.3" y2="609.76" stroke="#111" stroke-width="1"/>
<line x1="67.8" y1="601.10" x2="70.3" y2="601.10" stroke="#111" stroke-width="1"/>
<line x1="67.8" y1="592.44" x2="70.3" y2="592.44" stroke="#111" stroke-width="1"/>
<line x1="67.8" y1="583.78" x2="70.3" y2="583.78" stroke="#111" stroke-width="1"/>
<line x1="67.8" y1="575.12" x2="70.3" y2="575.12" stroke="#111" stroke-width="1"/>
<line x1="67.8" y1="566.46" x2="70.3" y2="566.46" stroke="#111" stroke-width="1"/>
<line x1="67.8" y1="549.14" x2="70.3" y2="549.14" stroke="#111" stroke-width="1"/>
<line x1="67.8" y1="540.48" x2="70.3" y2="540.48" stroke="#111" stroke-width="1"/>
<line x1="67.8" y1="531.82" x2="70.3" y2="531.82" stroke="#111" stroke-width="1"/>
<line x1="67.8" y1="523.16" x2="70.3" y2="523.16" stroke="#111" stroke-width="1"/>
<line x1="67.8" y1="514.50" x2="70.3" y2="514.50" stroke="#111" stroke-width="1"/>
<line x1="67.8" y1="505.84" x2="70.3" y2="505.84" stroke="#111" stroke-width="1"/>
<line x1="67.8" y1="497.18" x2="70.3" y2="497.18" stroke="#111" stroke-width="1"/>
<line x1="67.8" y1="488.52" x2="70.3" y2="488.52" stroke="#111" stroke-width="1"/>
<line x1="67.8" y1="479.86" x2="70.3" y2="479.86" stroke="#111" stroke-width="1"/>
<line x1="65.6" y1="644.4" x2="80.8" y2="644.4" stroke="#111" stroke-width="1.7"/>
<line x1="89.6" y1="644.4" x2="327.7" y2="644.4" stroke="#111" stroke-width="1.7"/>
<line x1="77.8" y1="648.3" x2="85.5" y2="640.6" stroke="#111" stroke-width="1.4"/>
<line x1="85.5" y1="648.3" x2="93.2" y2="640.6" stroke="#111" stroke-width="1.4"/>
<line x1="70.3" y1="644.4" x2="70.3" y2="648.6" stroke="#111" stroke-width="1.3"/>
<text transform="translate(70.30,663.30) scale(1.12,1)" font-size="11" font-weight="400" fill="#1a1a1a" text-anchor="middle" >0</text>
<line x1="99.20" y1="644.4" x2="99.20" y2="648.6" stroke="#111" stroke-width="1.3"/>
<text transform="translate(99.20,663.30) scale(1.12,1)" font-size="11" font-weight="400" fill="#1a1a1a" text-anchor="middle" >60</text>
<line x1="143.85" y1="644.4" x2="143.85" y2="648.6" stroke="#111" stroke-width="1.3"/>
<text transform="translate(143.85,663.30) scale(1.12,1)" font-size="11" font-weight="400" fill="#1a1a1a" text-anchor="middle" >70</text>
<line x1="188.50" y1="644.4" x2="188.50" y2="648.6" stroke="#111" stroke-width="1.3"/>
<text transform="translate(188.50,663.30) scale(1.12,1)" font-size="11" font-weight="400" fill="#1a1a1a" text-anchor="middle" >80</text>
<line x1="233.15" y1="644.4" x2="233.15" y2="648.6" stroke="#111" stroke-width="1.3"/>
<text transform="translate(233.15,663.30) scale(1.12,1)" font-size="11" font-weight="400" fill="#1a1a1a" text-anchor="middle" >90</text>
<line x1="277.80" y1="644.4" x2="277.80" y2="648.6" stroke="#111" stroke-width="1.3"/>
<text transform="translate(277.80,663.30) scale(1.12,1)" font-size="11" font-weight="400" fill="#1a1a1a" text-anchor="middle" >100</text>
<line x1="322.45" y1="644.4" x2="322.45" y2="648.6" stroke="#111" stroke-width="1.3"/>
<text transform="translate(322.45,663.30) scale(1.12,1)" font-size="11" font-weight="400" fill="#1a1a1a" text-anchor="middle" >110</text>
<text transform="translate(199.40,683.20) scale(0.77,1)" font-size="12.8" font-weight="400" fill="#1a1a1a" text-anchor="middle" stroke="#1a1a1a" stroke-width="0.55">Days post-engraftment</text>
<text transform="translate(32.10,554.50) rotate(-90) scale(0.757,1)" font-size="13.5" font-weight="400" fill="#1a1a1a" text-anchor="middle" stroke="#1a1a1a" stroke-width="0.55">Probability of survival</text>
<line x1="114.6" y1="466.7" x2="114.6" y2="644" stroke="#222" stroke-width="1" stroke-dasharray="1.2,2"/>
<path d="M89.40,469.30 L277.80,469.30 L277.80,498.17 L291.19,498.17 L291.19,527.03 L313.52,527.03 L313.52,584.77 L317.99,584.77 L317.99,642.50" fill="none" stroke="#2a4480" stroke-width="1.35" stroke-dasharray="2.3,1.2"/>
<line x1="70.3" y1="469.30" x2="81.5" y2="469.30" stroke="#2a4480" stroke-width="1.5" stroke-dasharray="2.3,1.2"/>
<path d="M89.40,471.60 L161.71,471.60 L161.71,493.25 L175.11,493.25 L175.11,514.90 L179.57,514.90 L179.57,558.20 L188.50,558.20 L188.50,644.80" fill="none" stroke="#3a9a48" stroke-width="1.35" stroke-dasharray="2.3,1.2"/>
<line x1="70.3" y1="471.60" x2="81.5" y2="471.60" stroke="#3a9a48" stroke-width="1.5" stroke-dasharray="2.3,1.2"/>
<path d="M89.40,473.50 L259.94,473.50 L259.94,581.75 L268.87,581.75 L268.87,603.40 L273.33,603.40 L273.33,646.70" fill="none" stroke="#c0284e" stroke-width="1.35" stroke-dasharray="2.3,1.2"/>
<line x1="70.3" y1="473.50" x2="81.5" y2="473.50" stroke="#c0284e" stroke-width="1.5" stroke-dasharray="2.3,1.2"/>
<path d="M89.40,469.40 L125.99,469.40 L125.99,518.89 L134.47,518.89 L134.47,543.63 L143.85,543.63 L143.85,568.37 L157.25,568.37 L157.25,617.86 L179.57,617.86 L179.57,642.60" fill="none" stroke="#2a4480" stroke-width="1.35" />
<line x1="70.3" y1="469.40" x2="81.5" y2="469.40" stroke="#2a4480" stroke-width="1.5" stroke-dasharray="2.3,1.2"/>
<path d="M89.40,471.20 L125.99,471.20 L125.99,495.94 L143.85,495.94 L143.85,545.43 L157.25,545.43 L157.25,594.91 L162.16,594.91 L162.16,619.66 L179.57,619.66 L179.57,644.40" fill="none" stroke="#3a9a48" stroke-width="1.35" />
<line x1="70.3" y1="471.20" x2="81.5" y2="471.20" stroke="#3a9a48" stroke-width="1.5" stroke-dasharray="2.3,1.2"/>
<path d="M89.40,473.20 L125.99,473.20 L125.99,497.94 L134.92,497.94 L134.92,572.17 L143.85,572.17 L143.85,596.91 L161.71,596.91 L161.71,621.66 L224.67,621.66 L224.67,646.40" fill="none" stroke="#c0284e" stroke-width="1.35" />
<line x1="70.3" y1="473.20" x2="81.5" y2="473.20" stroke="#c0284e" stroke-width="1.5" stroke-dasharray="2.3,1.2"/>
<line x1="332.3" y1="476.60" x2="351.3" y2="476.60" stroke="#c0284e" stroke-width="1.5" stroke-dasharray="2.3,1.9"/>
<line x1="341.8" y1="473.30" x2="341.8" y2="476.60" stroke="#c0284e" stroke-width="1.4"/>
<text transform="translate(360.30,480.10) scale(0.9,1)" font-size="10.6" font-weight="400" fill="#151515" text-anchor="start" >Tala</text>
<line x1="332.3" y1="494.40" x2="351.3" y2="494.40" stroke="#c0284e" stroke-width="1.5" />
<line x1="341.8" y1="491.10" x2="341.8" y2="494.40" stroke="#c0284e" stroke-width="1.4"/>
<text transform="translate(360.30,497.90) scale(0.95,1)" font-size="10.6" font-weight="400" fill="#151515" text-anchor="start" >Tala Veh</text>
<line x1="332.3" y1="512.00" x2="351.3" y2="512.00" stroke="#3a9a48" stroke-width="1.5" stroke-dasharray="2.3,1.9"/>
<line x1="341.8" y1="508.70" x2="341.8" y2="512.00" stroke="#3a9a48" stroke-width="1.4"/>
<text transform="translate(360.30,515.50)" font-size="10.6" font-weight="400" fill="#151515" text-anchor="start" >Teg</text>
<line x1="332.3" y1="529.70" x2="351.3" y2="529.70" stroke="#3a9a48" stroke-width="1.5" />
<line x1="341.8" y1="526.40" x2="341.8" y2="529.70" stroke="#3a9a48" stroke-width="1.4"/>
<text transform="translate(360.30,533.20)" font-size="10.6" font-weight="400" fill="#151515" text-anchor="start" >Teg Veh</text>
<line x1="332.3" y1="547.30" x2="351.3" y2="547.30" stroke="#2a4480" stroke-width="1.5" stroke-dasharray="2.3,1.9"/>
<line x1="341.8" y1="544.00" x2="341.8" y2="547.30" stroke="#2a4480" stroke-width="1.4"/>
<text transform="translate(360.30,550.80) scale(1.04,1)" font-size="10.6" font-weight="400" fill="#151515" text-anchor="start" >Combo</text>
<line x1="332.3" y1="564.80" x2="351.3" y2="564.80" stroke="#2a4480" stroke-width="1.5" />
<line x1="341.8" y1="561.50" x2="341.8" y2="564.80" stroke="#2a4480" stroke-width="1.4"/>
<text transform="translate(360.30,568.30) scale(1.01,1)" font-size="10.6" font-weight="400" fill="#151515" text-anchor="start" >Combo Veh</text>
<polyline points="379.8,475.4 490.0,475.4 490.0,548.5 402.5,548.5" fill="none" stroke="#5c5c5c" stroke-width="1.45"/>
<polyline points="379.8,477.1 411.4,477.1 411.4,494.6 399.8,494.6" fill="none" stroke="#5c5c5c" stroke-width="1.45"/>
<polyline points="378.5,508.6 454.2,508.6 454.2,547.0 402.5,547.0" fill="none" stroke="#5c5c5c" stroke-width="1.45"/>
<polyline points="378.5,511.1 411.4,511.1 411.4,529.8 399.5,529.8" fill="none" stroke="#5c5c5c" stroke-width="1.45"/>
<polyline points="402.5,550.0 433.5,550.0 433.5,564.8 417.5,564.8" fill="none" stroke="#5c5c5c" stroke-width="1.45"/>
<text transform="translate(413.60,491.50)" font-size="10.5" font-weight="700" fill="#1a1a1a" text-anchor="start" >****</text>
<text transform="translate(414.90,525.00)" font-size="10.5" font-weight="700" fill="#1a1a1a" text-anchor="start" >**</text>
<text transform="translate(458.90,530.30)" font-size="10.5" font-weight="700" fill="#1a1a1a" text-anchor="start" >***</text>
<text transform="translate(495.20,513.10)" font-size="10.5" font-weight="700" fill="#1a1a1a" text-anchor="start" >***</text>
<text transform="translate(436.00,564.10)" font-size="10.5" font-weight="700" fill="#1a1a1a" text-anchor="start" >***</text>
</svg>
</body></html>
